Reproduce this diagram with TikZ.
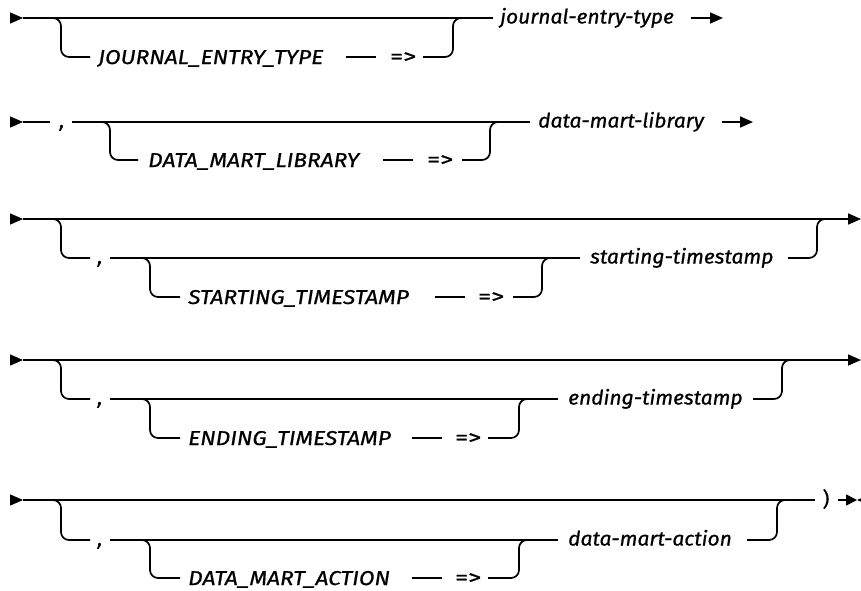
\documentclass[tikz,border=0pt]{standalone}
\usepackage{fontspec}
\setmainfont{Fira Sans}
\newfontfamily\capsfont{Fira Sans}[FakeStretch=1.14, FakeBold=0.8]
\newfontfamily\lowfont{Fira Sans}[FakeStretch=1.05, FakeBold=0.8]
\newfontfamily\opfont{Fira Sans}[FakeStretch=1.3, FakeBold=1.0]
\usetikzlibrary{arrows.meta}
\newcommand\dsz{\fontsize{20}{24}\selectfont}
\newcommand\startmk[1]{\fill (#1) ++(0,-5.7) -- ++(13,5.7) -- ++(-13,5.7) -- cycle;}
\begin{document}
\begin{tikzpicture}[x=1pt,y=-1pt,
  synln/.style={line width=1.7pt},
  synbr/.style={line width=1.7pt, rounded corners=8pt},
  synkw/.style={anchor=west, inner sep=0pt, text height=14pt, text depth=0pt, font=\capsfont\dsz\itshape},
  synvr/.style={anchor=west, inner sep=0pt, text height=11pt, text depth=0pt, font=\lowfont\dsz\itshape},
  synop/.style={anchor=west, inner sep=0pt, text height=12.5pt, text depth=0pt, font=\opfont\dsz},
  syncomma/.style={anchor=base, inner sep=0pt, font=\lowfont\dsz\itshape},
  synparen/.style={anchor=base, inner sep=0pt, font=\lowfont\dsz},
  synarr/.style={line width=1.7pt, -{Triangle[length=13pt,width=11pt]}},
  synend/.style={line width=1.7pt, -{Triangle[length=11pt,width=11pt]}},
]
\useasboundingbox (0,0) rectangle (861,590);
\clip (0,0) rectangle (861,590);

% ---------- Row 1 ----------
\coordinate (r1s) at (10,18);   \coordinate (r1a) at (23,18);   \coordinate (r1m) at (493,18);
\coordinate (r1b0) at (45,18);  \coordinate (r1b1) at (61,57);  \coordinate (r1b2) at (90,57);
\coordinate (r1d0) at (346,57); \coordinate (r1d1) at (376,57);
\coordinate (r1j0) at (423,57); \coordinate (r1j1) at (453,18); \coordinate (r1j2) at (470,18);
\coordinate (r1e0) at (691,18); \coordinate (r1e1) at (723,18);
\node[synkw] (r1k) at (98,57) {JOURNAL\_ENTRY\_TYPE};
\node[synop] (r1q) at (390,57) {=>};
\node[synvr] (r1v) at (500,18) {journal-entry-type};
\startmk{r1s}
\draw[synln] (r1a) -- (r1m);
\draw[synbr] (r1b0) -| (r1b1) -- (r1b2);
\draw[synln] (r1d0) -- (r1d1);
\draw[synbr] (r1j0) -| (r1j1) -- (r1j2);
\draw[synarr] (r1e0) -- (r1e1);

% ---------- Row 2 ----------
\coordinate (r2s) at (10,122);  \coordinate (r2a) at (23,122);  \coordinate (r2c0) at (50,122);
\coordinate (r2c1) at (72,122); \coordinate (r2m) at (530,122);
\coordinate (r2b0) at (95,122); \coordinate (r2b1) at (110,160); \coordinate (r2b2) at (138,160);
\coordinate (r2d0) at (383,160); \coordinate (r2d1) at (413,160);
\coordinate (r2j0) at (462,160); \coordinate (r2j1) at (490,122); \coordinate (r2j2) at (505,122);
\coordinate (r2e0) at (722,122); \coordinate (r2e1) at (753,122);
\node[syncomma] (r2c) at (62,127.5) {,};
\node[synkw] (r2k) at (148,160) {DATA\_MART\_LIBRARY};
\node[synop] (r2q) at (427,160) {=>};
\node[synvr] (r2v) at (538,122) {data-mart-library};
\startmk{r2s}
\draw[synln] (r2a) -- (r2c0);
\draw[synln] (r2c1) -- (r2m);
\draw[synbr] (r2b0) -| (r2b1) -- (r2b2);
\draw[synln] (r2d0) -- (r2d1);
\draw[synbr] (r2j0) -| (r2j1) -- (r2j2);
\draw[synarr] (r2e0) -- (r2e1);

% ---------- Row 3 ----------
\coordinate (r3s) at (10,219);  \coordinate (r3a) at (23,219);  \coordinate (r3z) at (861,219);
\coordinate (r3b0) at (50,219); \coordinate (r3b1) at (61,258); \coordinate (r3b2) at (90,258);
\coordinate (r3c1) at (110,258); \coordinate (r3m) at (580,258);
\coordinate (r3g0) at (138,258); \coordinate (r3g1) at (150,297); \coordinate (r3g2) at (180,297);
\coordinate (r3d0) at (435,297); \coordinate (r3d1) at (465,297);
\coordinate (r3h0) at (513,297); \coordinate (r3h1) at (542,258); \coordinate (r3h2) at (555,258);
\coordinate (r3j0) at (788,258); \coordinate (r3j1) at (817,219); \coordinate (r3j2) at (830,219);
\node[syncomma] (r3c) at (100,263.5) {,};
\node[synkw] (r3k) at (188,297) {STARTING\_TIMESTAMP};
\node[synop] (r3q) at (478,297) {=>};
\node[synvr] (r3v) at (590,258) {starting-timestamp};
\startmk{r3s}
\draw[synarr] (r3a) -- (r3z);
\draw[synbr] (r3b0) -| (r3b1) -- (r3b2);
\draw[synln] (r3c1) -- (r3m);
\draw[synbr] (r3g0) -| (r3g1) -- (r3g2);
\draw[synln] (r3d0) -- (r3d1);
\draw[synbr] (r3h0) -| (r3h1) -- (r3h2);
\draw[synbr] (r3j0) -| (r3j1) -- (r3j2);

% ---------- Row 4 ----------
\coordinate (r4s) at (10,360);  \coordinate (r4a) at (23,360);  \coordinate (r4z) at (861,360);
\coordinate (r4b0) at (50,360); \coordinate (r4b1) at (61,399); \coordinate (r4b2) at (90,399);
\coordinate (r4c1) at (110,399); \coordinate (r4m) at (558,399);
\coordinate (r4g0) at (138,399); \coordinate (r4g1) at (150,438); \coordinate (r4g2) at (180,438);
\coordinate (r4d0) at (412,438); \coordinate (r4d1) at (442,438);
\coordinate (r4h0) at (488,438); \coordinate (r4h1) at (519,399); \coordinate (r4h2) at (530,399);
\coordinate (r4j0) at (753,399); \coordinate (r4j1) at (782,360); \coordinate (r4j2) at (795,360);
\node[syncomma] (r4c) at (100,404.5) {,};
\node[synkw] (r4k) at (188,438) {ENDING\_TIMESTAMP};
\node[synop] (r4q) at (455,438) {=>};
\node[synvr] (r4v) at (568,399) {ending-timestamp};
\startmk{r4s}
\draw[synarr] (r4a) -- (r4z);
\draw[synbr] (r4b0) -| (r4b1) -- (r4b2);
\draw[synln] (r4c1) -- (r4m);
\draw[synbr] (r4g0) -| (r4g1) -- (r4g2);
\draw[synln] (r4d0) -- (r4d1);
\draw[synbr] (r4h0) -| (r4h1) -- (r4h2);
\draw[synbr] (r4j0) -| (r4j1) -- (r4j2);

% ---------- Row 5 ----------
\coordinate (r5s) at (10,500);  \coordinate (r5a) at (23,500);  \coordinate (r5m0) at (815,500);
\coordinate (r5b0) at (50,500); \coordinate (r5b1) at (61,540); \coordinate (r5b2) at (90,540);
\coordinate (r5c1) at (110,540); \coordinate (r5m) at (558,540);
\coordinate (r5g0) at (138,540); \coordinate (r5g1) at (150,578); \coordinate (r5g2) at (180,578);
\coordinate (r5d0) at (412,578); \coordinate (r5d1) at (442,578);
\coordinate (r5h0) at (488,578); \coordinate (r5h1) at (519,540); \coordinate (r5h2) at (530,540);
\coordinate (r5j0) at (747,540); \coordinate (r5j1) at (777,500); \coordinate (r5j2) at (790,500);
\coordinate (r5e0) at (838,500); \coordinate (r5e1) at (857,500);
\node[syncomma] (r5c) at (100,545.5) {,};
\node[synkw] (r5k) at (188,578) {DATA\_MART\_ACTION};
\node[synop] (r5q) at (455,578) {=>};
\node[synvr] (r5v) at (568,540) {data-mart-action};
\node[synparen] (r5p) at (826,506) {)};
\startmk{r5s}
\draw[synln] (r5a) -- (r5m0);
\draw[synbr] (r5b0) -| (r5b1) -- (r5b2);
\draw[synln] (r5c1) -- (r5m);
\draw[synbr] (r5g0) -| (r5g1) -- (r5g2);
\draw[synln] (r5d0) -- (r5d1);
\draw[synbr] (r5h0) -| (r5h1) -- (r5h2);
\draw[synbr] (r5j0) -| (r5j1) -- (r5j2);
\draw[synend] (r5e0) -- (r5e1);
\fill (r5e1) -- ++(13,-5.5) -- ++(0,11) -- cycle;
\end{tikzpicture}
\end{document}
